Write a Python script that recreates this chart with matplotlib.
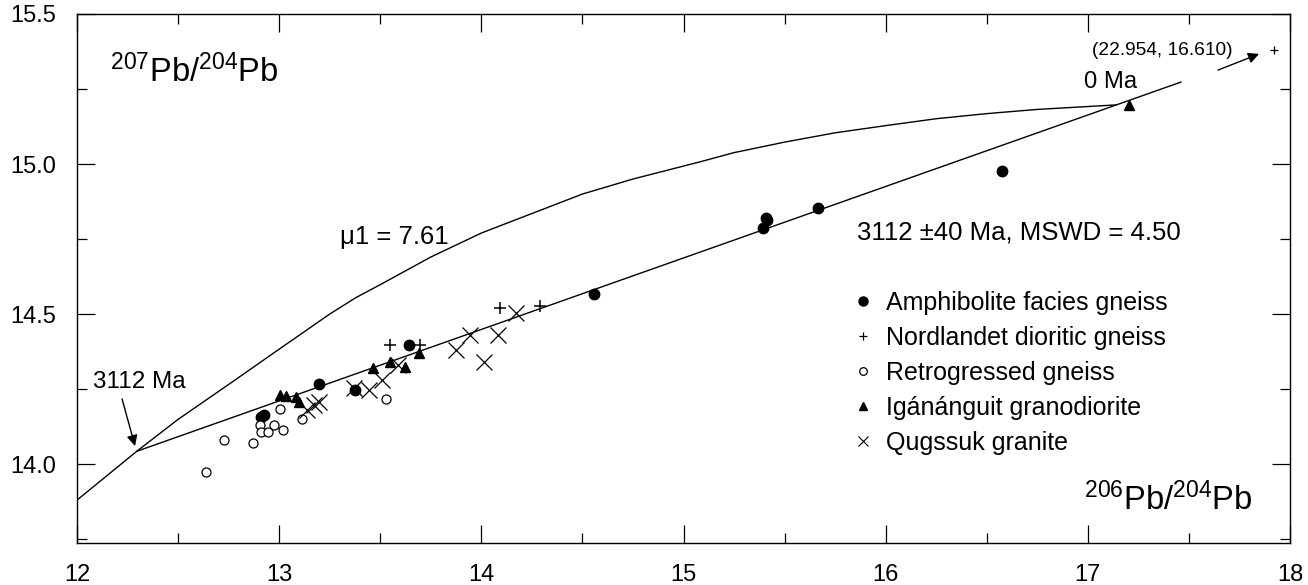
import matplotlib
matplotlib.use('Agg')
import matplotlib.pyplot as plt
from matplotlib.lines import Line2D
from matplotlib.ticker import MultipleLocator

plt.rcParams['font.family'] = ['Liberation Sans', 'DejaVu Sans']
plt.rcParams['mathtext.default'] = 'regular'

# Amostras (206Pb/204Pb, 207Pb/204Pb)
amf_x = [12.911, 12.926, 13.195, 13.376, 13.644, 14.556, 15.393, 15.406, 15.414, 15.667, 16.574]
amf_y = [14.156, 14.164, 14.266, 14.247, 14.397, 14.567, 14.786, 14.821, 14.813, 14.854, 14.978]

nord_x = [13.550, 13.695, 14.091, 14.292]
nord_y = [14.397, 14.397, 14.519, 14.527]

retro_x = [12.637, 12.728, 12.870, 12.903, 12.909, 12.947, 12.972, 13.002, 13.021, 13.112, 13.530]
retro_y = [13.972, 14.081, 14.069, 14.130, 14.108, 14.108, 14.130, 14.183, 14.113, 14.149, 14.216]

igan_x = [13.002, 13.033, 13.084, 13.100, 13.462, 13.550, 13.624, 13.690, 17.203]
igan_y = [14.230, 14.227, 14.224, 14.208, 14.319, 14.341, 14.324, 14.369, 15.197]

qug_x = [13.137, 13.170, 13.195, 13.371, 13.442, 13.508, 13.590, 13.876, 13.942, 14.011, 14.081, 14.173]
qug_y = [14.180, 14.197, 14.208, 14.252, 14.247, 14.280, 14.330, 14.380, 14.430, 14.341, 14.430, 14.504]

# Curva de crescimento (mu1 = 7.61) e isócrona
curva_x = [12.00, 12.30, 12.50, 12.76, 13.00, 13.25, 13.38, 13.50, 13.75, 14.00, 14.25, 14.50,
           14.75, 15.08, 15.25, 15.50, 15.75, 16.00, 16.25, 16.50, 16.75, 17.14]
curva_y = [13.88, 14.045, 14.149, 14.27, 14.383, 14.50, 14.555, 14.598, 14.69, 14.77, 14.835, 14.90,
           14.95, 15.007, 15.038, 15.073, 15.104, 15.128, 15.151, 15.168, 15.182, 15.197]

iso_x = [12.297, 17.46]
iso_y = [14.043, 15.273]

fig = plt.figure(figsize=(13.08, 5.85), dpi=100)
ax = fig.add_axes([77/1308, 1 - 543/585, 1213/1308, 529/585])

ax.plot(curva_x, curva_y, color='black', lw=1.0)
ax.plot(iso_x, iso_y, color='black', lw=1.0)

ax.plot(amf_x, amf_y, 'o', color='black', ms=7.5, ls='none')
ax.plot(nord_x, nord_y, '+', color='black', ms=8, mew=1.1, ls='none')
ax.plot(retro_x, retro_y, 'o', mfc='white', mec='black', ms=6.5, mew=0.9, ls='none')
ax.plot(igan_x, igan_y, '^', color='black', ms=7, ls='none')
ax.plot(qug_x, qug_y, 'x', color='black', ms=11, mew=0.9, ls='none')

# ponto fora da escala
ax.plot([17.921], [15.38], '+', color='black', ms=6, mew=0.9)
ax.annotate('', xy=(17.847, 15.367), xytext=(17.644, 15.313),
            arrowprops=dict(arrowstyle='-|>', color='black', lw=1.0,
                            mutation_scale=16, shrinkA=0, shrinkB=0))
ax.text(17.02, 15.38, '(22.954, 16.610)', fontsize=13.8, va='center', ha='left')

ax.annotate('', xy=(12.287, 14.06), xytext=(12.223, 14.217),
            arrowprops=dict(arrowstyle='-|>', color='black', lw=1.0,
                            mutation_scale=16, shrinkA=0, shrinkB=0))
ax.text(12.08, 14.273, '3112 Ma', fontsize=17.5, va='center', ha='left')
ax.text(16.98, 15.273, '0 Ma', fontsize=17.2, va='center', ha='left')
ax.text(13.30, 14.757, 'μ1 = 7.61', fontsize=18.5, va='center', ha='left')
ax.text(15.856, 14.773, '3112 ±40 Ma, MSWD = 4.50', fontsize=18.5, va='center', ha='left')

ax.text(12.163, 15.307, '$^{207}$Pb/$^{204}$Pb', fontsize=23.5, va='center', ha='left')
ax.text(16.98, 13.88, '$^{206}$Pb/$^{204}$Pb', fontsize=23.5, va='center', ha='left')

handles = [
    Line2D([], [], marker='o', color='black', ls='none', ms=6.5),
    Line2D([], [], marker='+', color='black', ls='none', ms=6, mew=0.9),
    Line2D([], [], marker='o', mfc='white', mec='black', ls='none', ms=5.5, mew=0.9),
    Line2D([], [], marker='^', color='black', ls='none', ms=5.5),
    Line2D([], [], marker='x', color='black', ls='none', ms=7, mew=0.8),
]
labels = ['Amphibolite facies gneiss', 'Nordlandet dioritic gneiss', 'Retrogressed gneiss',
          'Igánánguit granodiorite', 'Qugssuk granite']
ax.legend(handles, labels, loc='upper left', bbox_to_anchor=(0.6377, 0.476),
          frameon=False, fontsize=18, handlelength=1.0, handletextpad=0.4,
          labelspacing=0.435, borderpad=0, borderaxespad=0)

ax.set_xlim(12, 18)
ax.set_ylim(13.737, 15.5)
ax.xaxis.set_major_locator(MultipleLocator(1))
ax.xaxis.set_minor_locator(MultipleLocator(0.5))
ax.yaxis.set_major_locator(MultipleLocator(0.5))
ax.yaxis.set_minor_locator(MultipleLocator(0.25))
ax.yaxis.set_major_formatter(plt.FormatStrFormatter('%.1f'))
ax.tick_params(which='both', direction='in', top=True, right=True, width=0.9, labelsize=17)
ax.tick_params(which='major', length=13, pad=15)
ax.tick_params(which='minor', length=7)
for s in ax.spines.values():
    s.set_linewidth(1.0)

plt.savefig('out.png', dpi=100)
